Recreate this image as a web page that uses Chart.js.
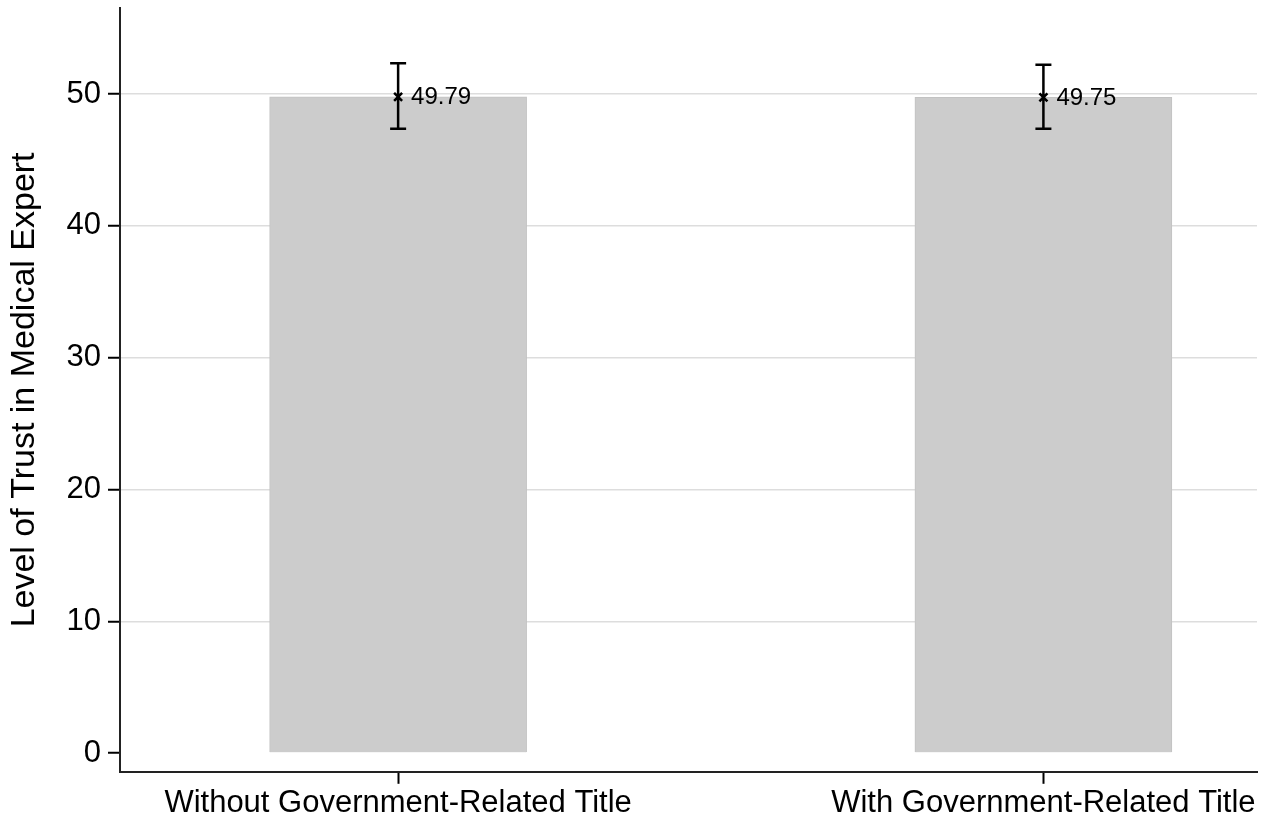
<!DOCTYPE html>
<html lang="en">
<head>
    <meta charset="UTF-8">
    <title>Level of Trust in Medical Expert</title>
    <style>
        html, body { margin: 0; padding: 0; background: #fff; }
        #wrap { width: 1265px; height: 823px; }
    </style>
</head>
<body>
    <div id="wrap"><canvas id="myChart" width="1265" height="823"></canvas></div>

    <script src="https://cdn.jsdelivr.net/npm/chart.js@4.4.1/dist/chart.umd.min.js"></script>
    <script>
        // data
        var categories = ['Without Government-Related Title', 'With Government-Related Title'];
        var positions = [1, 2];
        var means = [49.79, 49.75];
        var ciLow = [47.36, 47.36];
        var ciHigh = [52.33, 52.23];
        var yTicks = [0, 10, 20, 30, 40, 50];

        var FONT = "'Liberation Sans', Arial, sans-serif";

        // error bars, x markers and value labels
        var errorBars = {
            id: 'errorBars',
            afterDatasetsDraw: function (chart) {
                var ctx = chart.ctx;
                var xs = chart.scales.x, ys = chart.scales.y;
                ctx.save();
                ctx.strokeStyle = '#000';
                ctx.fillStyle = '#000';
                ctx.lineWidth = 2.5;
                for (var i = 0; i < means.length; i++) {
                    var x = xs.getPixelForValue(positions[i]);
                    var top = ys.getPixelForValue(ciHigh[i]);
                    var bot = ys.getPixelForValue(ciLow[i]);
                    var y = ys.getPixelForValue(means[i]);
                    ctx.beginPath();
                    ctx.moveTo(x, top); ctx.lineTo(x, bot);
                    ctx.moveTo(x - 8, top); ctx.lineTo(x + 8, top);
                    ctx.moveTo(x - 8, bot); ctx.lineTo(x + 8, bot);
                    ctx.moveTo(x - 4, y - 4); ctx.lineTo(x + 4, y + 4);
                    ctx.moveTo(x - 4, y + 4); ctx.lineTo(x + 4, y - 4);
                    ctx.stroke();
                    ctx.font = '24px ' + FONT;
                    ctx.textAlign = 'left';
                    ctx.textBaseline = 'middle';
                    ctx.fillText(means[i].toFixed(2), x + 13, y + 1);
                }
                ctx.restore();
            }
        };

        function createChart() {
            var ctx = document.getElementById('myChart').getContext('2d');
            var points = [];
            for (var i = 0; i < means.length; i++) {
                points.push({ x: positions[i], y: means[i] });
            }
            new Chart(ctx, {
                type: 'bar',
                data: {
                    datasets: [{
                        data: points,
                        backgroundColor: '#cccccc',
                        borderColor: '#c2c2c2',
                        borderWidth: 1,
                        barThickness: 257
                    }]
                },
                options: {
                    responsive: false,
                    animation: false,
                    layout: { padding: { top: 8, right: 8, left: 0, bottom: 0 } },
                    plugins: {
                        legend: { display: false },
                        tooltip: { enabled: false }
                    },
                    scales: {
                        x: {
                            type: 'linear',
                            min: 0.569,
                            max: 2.331,
                            offset: false,
                            afterBuildTicks: function (scale) {
                                scale.ticks = positions.map(function (v) { return { value: v }; });
                            },
                            afterFit: function (scale) {
                                scale.paddingLeft = 0;
                                scale.paddingRight = 0;
                            },
                            ticks: {
                                color: '#000',
                                font: { family: FONT, size: 31 },
                                padding: 1,
                                maxRotation: 0,
                                autoSkip: false,
                                callback: function (v) {
                                    return categories[positions.indexOf(v)];
                                }
                            },
                            grid: {
                                offset: false,
                                drawOnChartArea: false,
                                drawTicks: true,
                                tickLength: 12,
                                tickColor: '#000',
                                tickWidth: 2
                            },
                            border: { color: '#222', width: 2 }
                        },
                        y: {
                            min: -1.42,
                            max: 56.53,
                            afterBuildTicks: function (scale) {
                                scale.ticks = yTicks.map(function (v) { return { value: v }; });
                            },
                            afterFit: function (scale) {
                                scale.width = 120;
                                scale.paddingTop = 0;
                                scale.paddingBottom = 0;
                            },
                            ticks: {
                                color: '#000',
                                font: { family: FONT, size: 31 },
                                padding: 7,
                                callback: function (v) { return String(v); }
                            },
                            grid: {
                                color: function (c) {
                                    return c.tick && c.tick.value === 0 ? 'rgba(0,0,0,0)' : '#dddddd';
                                },
                                lineWidth: 1.5,
                                tickLength: 12,
                                tickColor: '#000',
                                tickWidth: 2
                            },
                            border: { color: '#222', width: 2 },
                            title: {
                                display: true,
                                text: 'Level of Trust in Medical Expert',
                                color: '#000',
                                font: { family: FONT, size: 34 },
                                padding: { top: 4, bottom: 4 }
                            }
                        }
                    }
                },
                plugins: [errorBars]
            });
        }
        createChart();
    </script>
</body>
</html>
